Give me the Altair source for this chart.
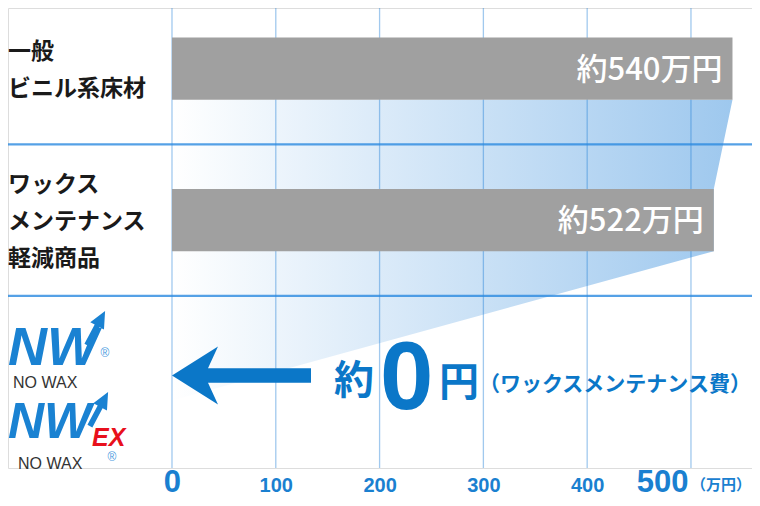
import altair as alt
import pandas as pd

# ---------------- data ----------------
categories = ["一般\nビニル系床材", "ワックス\nメンテナンス\n軽減商品"]
costs = [540, 522]                      # 万円
nowax_cost = 0                          # NW / NW EX (約0円)
tick_values = [0, 100, 200, 300, 400, 500]
unit_text = "（万円）"
note_text = "（ワックスメンテナンス費）"

# ---------------- layout / style constants ----------------
W, H = 744, 460
PX_PER_ROW = 151.5
Y_DOMAIN = [0.1, 0.1 + H / PX_PER_ROW]
BAR_HALF = 0.205
CONE_DROP = 0.19
LINE_H = 37
JP = "Noto Sans CJK JP"
LAT = "Liberation Sans"
BLUE = "#0b77c8"
AXBLUE = "#1a80d0"

rows = list(range(len(categories)))
bars = pd.DataFrame({
    "cat": categories,
    "cost": costs,
    "row": [r + 0.5 for r in rows],
})
bars["y0"] = bars["row"] - BAR_HALF
bars["y1"] = bars["row"] + BAR_HALF
bars["label"] = ["約" + str(c) + "万円" for c in costs]
# first-line position so that multi-line labels are centred on their row
bars["ytxt"] = [r - (c.count("\n") * LINE_H / 2) / PX_PER_ROW
                for r, c in zip(bars["row"], categories)]

nw_row = len(categories) + 0.5

# funnel (cone) from the bar ends down to the 0 point
cone_v, cone_x = [bars["y1"][0]], [costs[0]]
for i in rows[1:]:
    cone_v += [bars["y0"][i], bars["y1"][i]]
    cone_x += [costs[i], costs[i]]
cone_v.append(nw_row + CONE_DROP)
cone_x.append(nowax_cost)
cone = pd.DataFrame({"v": cone_v, "x": cone_x})

ticks = pd.DataFrame({"t": tick_values})
bounds = pd.DataFrame({"b": [r + 1 for r in rows]})
annot = pd.DataFrame({"x": [nowax_cost], "y": [nw_row], "unit": [tick_values[-1]]})

xs = alt.Scale(domain=[-158, 558.8], nice=False, zero=False)
ys = alt.Scale(domain=Y_DOMAIN, nice=False, zero=False, reverse=True)

xaxis = alt.Axis(
    values=tick_values, grid=False, domain=False, ticks=False, title=None,
    labelPadding=23, labelBaseline="alphabetic", labelColor=AXBLUE,
    labelFont=LAT, labelFontWeight="bold", labelFlush=False, labelOverlap=False,
    labelFontSize={"condition": {"test": "datum.value == 0 || datum.value == 500", "value": 31}, "value": 20},
    labelAlign={"condition": {"test": "datum.value == 500", "value": "right"}, "value": "center"},
    labelOffset={"condition": {"test": "datum.value == 500", "value": -3}, "value": 0},
)

def X(field):
    return alt.X(field, scale=xs, axis=xaxis)

def Y(field):
    return alt.Y(field, scale=ys, axis=None)

grad = alt.Gradient(
    gradient="linear",
    stops=[alt.GradientStop(color="#ffffff", offset=0),
           alt.GradientStop(color="#9ec8ee", offset=1)],
    x1=0, x2=1, y1=0, y2=0,
)

area = alt.Chart(cone).mark_area(orient="horizontal", color=grad, opacity=1).encode(
    y=Y("v:Q"), x=X("x:Q"),
)

vgrid = alt.Chart(ticks).mark_rule(color="#1f7fd6", opacity=0.42, strokeWidth=1.3).encode(
    x=X("t:Q")
)
hgrid = alt.Chart(bounds).mark_rule(color="#2a8ae0", opacity=0.8, strokeWidth=2.2).encode(
    y=Y("b:Q")
)

barl = alt.Chart(bars).mark_bar(color="#a0a0a0").encode(
    x=X("cost:Q"), x2=alt.datum(0), y=Y("y0:Q"), y2="y1:Q",
)

barText = alt.Chart(bars).mark_text(
    align="right", baseline="middle", dx=-10, dy=2, font=JP, fontSize=31,
    fontWeight=500, color="white"
).encode(x=X("cost:Q"), y=Y("row:Q"), text="label:N")

catText = alt.Chart(bars).mark_text(
    align="left", baseline="middle", lineBreak="\n", lineHeight=LINE_H, font=JP,
    fontWeight="bold", fontSize=23, color="#1a1a1a", dy=2
).encode(x=alt.value(0), y=Y("ytxt:Q"), text="cat:N")

arrow_path = "M0,0.08 L0.92,-0.5 L0.72,-0.065 L2.78,-0.065 L2.78,0.225 L0.72,0.225 L0.92,0.66 Z"
arrow = alt.Chart(annot).mark_point(
    shape=arrow_path, size=10000, filled=True, color=BLUE, opacity=1, strokeWidth=0
).encode(x=X("x:Q"), y=Y("y:Q"))

def note(text, dx, dy, size, font=JP, weight="bold"):
    return alt.Chart(annot).mark_text(
        text=text, align="left", baseline="middle", dx=dx, dy=dy,
        fontSize=size, font=font, fontWeight=weight, color=BLUE
    ).encode(x=X("x:Q"), y=Y("y:Q"))

n1 = note("約", 162, 10, 40)
n2 = note(str(nowax_cost), 208, 8, 96, font=LAT)
n3 = note("円", 267, 12, 40)
n4 = note(note_text, 307, 13, 21)

unit = alt.Chart(annot).mark_text(
    text=unit_text, align="left", baseline="alphabetic", dx=0, font=JP,
    fontWeight="bold", fontSize=15, color=AXBLUE
).encode(x=X("unit:Q"), y=alt.value(H + 22))

LOGO = "#1a82d2"
def logo_text(text, x, y, size, color, font=LAT, weight="bold", style="normal",
              baseline="alphabetic", align="left"):
    return alt.Chart(annot).mark_text(
        text=text, align=align, baseline=baseline, font=font, fontSize=size,
        fontWeight=weight, fontStyle=style, color=color
    ).encode(x=alt.value(x), y=alt.value(y))

def logo_arrow(x, y):
    return alt.Chart(annot).mark_point(
        shape="arrow", size=1500, angle=28, filled=True, color=LOGO, opacity=1
    ).encode(x=alt.value(x), y=alt.value(y))

logos = [
    logo_text("N", 0, 357, 54, LOGO, style="italic"),
    logo_text("W", 39, 357, 54, LOGO, style="italic"),
    logo_arrow(88, 320),
    logo_text("®", 97, 345, 12, "#4a9be0", weight="normal", baseline="middle", align="center"),
    logo_text("NO WAX", 5, 380, 16, "#333333", weight="normal"),
    logo_text("N", 0, 430, 50, LOGO, style="italic"),
    logo_text("W", 36, 430, 50, LOGO, style="italic"),
    logo_arrow(91, 401),
    logo_text("EX", 84, 438, 25, "#e8101c", style="italic"),
    logo_text("®", 104, 449, 12, "#4a9be0", weight="normal", baseline="middle", align="center"),
    logo_text("NO WAX", 10, 461, 16, "#333333", weight="normal"),
]

chart = alt.layer(
    area, vgrid, hgrid, barl, barText, catText, arrow, n1, n2, n3, n4, unit, *logos
).properties(
    width=W, height=H,
    autosize=alt.AutoSizeParams(type="none"),
    padding={"left": 0, "top": 0, "right": 0, "bottom": 30},
).configure_view(stroke=None).configure(background="white")

chart.save("out.html", embed_options={"renderer": "svg", "actions": False})
